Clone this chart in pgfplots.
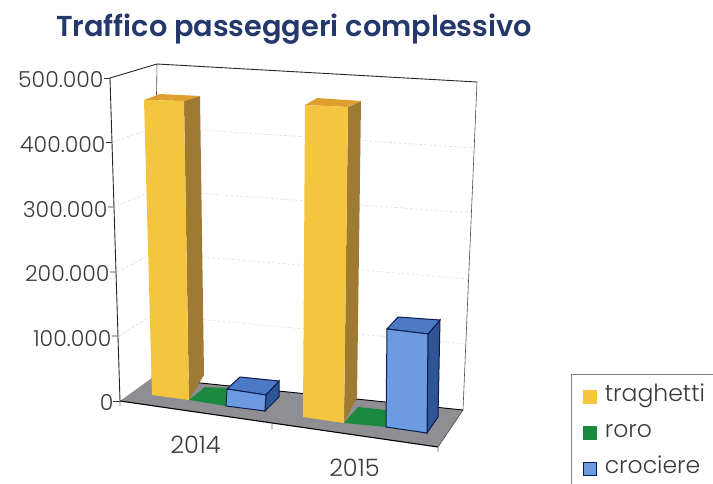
\documentclass[border=0pt]{standalone}
\usepackage{fontspec}
\setmainfont{Poppins}[UprightFont=* Light,BoldFont=* SemiBold]
\usepackage{pgfplots}
\pgfplotsset{compat=1.18}
\definecolor{titleblue}{HTML}{24386B}
\definecolor{txt}{HTML}{3A3A3A}
\definecolor{yfront}{HTML}{F4C640}
\definecolor{yside}{HTML}{9E7A33}
\definecolor{ytop}{HTML}{DDA02E}
\definecolor{bfront}{HTML}{6C9BE2}
\definecolor{bside}{HTML}{2F5597}
\definecolor{btop}{HTML}{4C7AC4}
\definecolor{bedge}{HTML}{0C1C4C}
\definecolor{grn}{HTML}{1B8A3E}
\definecolor{floorc}{HTML}{8F8F93}
\definecolor{gridc}{HTML}{DDDDDD}
% corner -> axis position: px, py locate the corner on the sheet, v is the value
\newcommand\DX{(\thisrow{px}-120+10*\thisrow{v}/500000)}
\newcommand\DY{(\thisrow{py}-401+323*\thisrow{v}/500000)}
\newcommand\poly[2]{\addplot3[forget plot,#1] table[row sep=\\,
   x expr={(23*\DX+32*\DY)/4393},
   y expr={(23*\DX-159*\DY)/4393},
   z expr={\thisrow{v}/1000}] {px py v\\ #2} -- cycle;}
\newcommand\pline[2]{\addplot3[forget plot,#1] table[row sep=\\,
   x expr={(23*\DX+32*\DY)/4393},
   y expr={(23*\DX-159*\DY)/4393},
   z expr={\thisrow{v}/1000}] {px py v\\ #2};}
\begin{document}
\begin{tikzpicture}[x=1pt,y=1pt]
\useasboundingbox (0,0) rectangle (713,483);
\node[anchor=center,text=titleblue,font=\fontsize{28.8}{30}\selectfont\bfseries] at (294,454) {Traffico passeggeri complessivo};
\begin{axis}[
  at={(120pt,82pt)},anchor=origin,
  x={(159pt,-23pt)},y={(32pt,23pt)},z={(-0.02pt,0.646pt)},
  xmin=0,xmax=2,ymin=0,ymax=1,zmin=0,zmax=500,
  clip=false,
  axis line style={draw=none},
  xtick={0.5,1.5},xticklabels={2014,2015},
  ytick=\empty,
  ztick={0,100,200,300,400,500},
  zticklabels={0,100.000,200.000,300.000,400.000,500.000},
  ztick pos=left,xtick pos=left,
  tick align=outside,
  major tick length=0pt,
  major x tick style={draw=none},
  major z tick style={draw=none},
  ticklabel style={text=txt},
  z tick label style={anchor=east,font=\fontsize{22}{24}\selectfont,xshift=-3pt,yshift=-2pt},
  x tick label style={font=\fontsize{24}{26}\selectfont,xshift=3.5pt,yshift=-16.5pt},
  legend style={at={(1.28,0.185)},anchor=north west,draw=gray,
    font=\fontsize{23.5}{25}\selectfont,text=txt,
    nodes={text height=14pt,text depth=5pt},
    legend cell align=left,row sep=13pt,inner xsep=12pt,inner ysep=11pt},
  legend image code/.code={\draw[#1] (0pt,-6pt) rectangle (13pt,7pt);\path (19pt,0pt);},
]
% floor
\poly{fill=floorc,draw=none}{120 401 0\\ 438 447 0\\ 463 410 0\\ 152 378 0\\}
\pline{black,line width=1.1pt}{120 401 0\\ 438 447 0\\}
\pline{black!70,line width=0.6pt}{438 447 0\\ 463 410 0\\}
\pline{black,line width=0.9pt}{152 378 0\\ 463 410 0\\}
% gridlines
\pline{gridc,densely dashed,line width=0.6pt}{119 336 100000\\ 153 315 100000\\ 466 344 100000\\}
\pline{gridc,densely dashed,line width=0.6pt}{117 272 200000\\ 154 253 200000\\ 469 279 200000\\}
\pline{gridc,densely dashed,line width=0.6pt}{114 207 300000\\ 155 190 300000\\ 472 213 300000\\}
\pline{gridc,densely dashed,line width=0.6pt}{112 142 400000\\ 156 127 400000\\ 474 148 400000\\}
% frame
\pline{black!85,line width=0.9pt}{120 401 0\\ 110 78 500000\\ 157 64 500000\\ 477 82 500000\\}
\pline{black!70,line width=0.6pt}{157 64 500000\\ 152 378 0\\}
\pline{black!70,line width=0.6pt}{477 82 500000\\ 463 410 0\\}
% ticks
\pline{black!80,line width=0.6pt}{113 401 0\\ 120 401 0\\}
\pline{black!80,line width=0.6pt}{112 336 100000\\ 118 336 100000\\}
\pline{black!80,line width=0.6pt}{110 272 200000\\ 116 272 200000\\}
\pline{black!80,line width=0.6pt}{108 207 300000\\ 114 207 300000\\}
\pline{black!80,line width=0.6pt}{106 142 400000\\ 112 142 400000\\}
\pline{black!80,line width=0.6pt}{104 78 500000\\ 110 78 500000\\}
\pline{black!60,line width=0.6pt}{120 401 0\\ 120 406 0\\}
\pline{black!60,line width=0.6pt}{272 424 0\\ 272 429 0\\}
\pline{black!60,line width=0.6pt}{438 447 0\\ 438 452 0\\}
% 2014 traghetti
\poly{fill=yside,draw=none}{189 400 0\\ 204 375 0\\ 200 96 455000\\ 184 101 455000\\}
\poly{fill=ytop,draw=none}{144 100 455000\\ 184 101 455000\\ 200 96 455000\\ 160 94 455000\\}
\poly{fill=yfront,draw=none}{152 395 0\\ 189 400 0\\ 184 101 455000\\ 144 100 455000\\}
% 2014 roro
\poly{fill=grn,draw=none}{189 400 1000\\ 226 406 1000\\ 226 388 1000\\ 205 387 1000\\}
% 2014 crociere
\poly{fill=bside,draw=bedge,line width=1pt}{265 411 0\\ 279 397 0\\ 279 381 26000\\ 266 395 26000\\}
\poly{fill=btop,draw=bedge,line width=1pt}{227 389 26000\\ 266 395 26000\\ 279 381 26000\\ 240 377 26000\\}
\poly{fill=bfront,draw=bedge,line width=1pt}{226 406 0\\ 265 411 0\\ 266 395 26000\\ 227 389 26000\\}
% 2015 traghetti
\poly{fill=yside,draw=none}{344 423 0\\ 357 397 0\\ 361 101 458000\\ 348 107 458000\\}
\poly{fill=ytop,draw=none}{305 105 458000\\ 348 107 458000\\ 361 101 458000\\ 317 98 458000\\}
\poly{fill=yfront,draw=none}{303 417 0\\ 344 423 0\\ 348 107 458000\\ 305 105 458000\\}
% 2015 roro
\poly{fill=grn,draw=none}{344 423 1000\\ 386 427 1000\\ 386 410 1000\\ 358 407 1000\\}
% 2015 crociere
\poly{fill=bside,draw=bedge,line width=1pt}{427 433 0\\ 438 417 0\\ 440 320 142000\\ 428 334 142000\\}
\poly{fill=btop,draw=bedge,line width=1pt}{387 329 142000\\ 428 334 142000\\ 440 320 142000\\ 398 317 142000\\}
\poly{fill=bfront,draw=bedge,line width=1pt}{386 427 0\\ 427 433 0\\ 428 334 142000\\ 387 329 142000\\}
\addlegendimage{fill=yfront,draw=yfront}
\addlegendentry{traghetti\hspace{18pt}}
\addlegendimage{fill=grn,draw=grn}
\addlegendentry{roro}
\addlegendimage{fill=bfront,draw=bedge,line width=0.8pt}
\addlegendentry{crociere}
\end{axis}
\end{tikzpicture}
\end{document}
